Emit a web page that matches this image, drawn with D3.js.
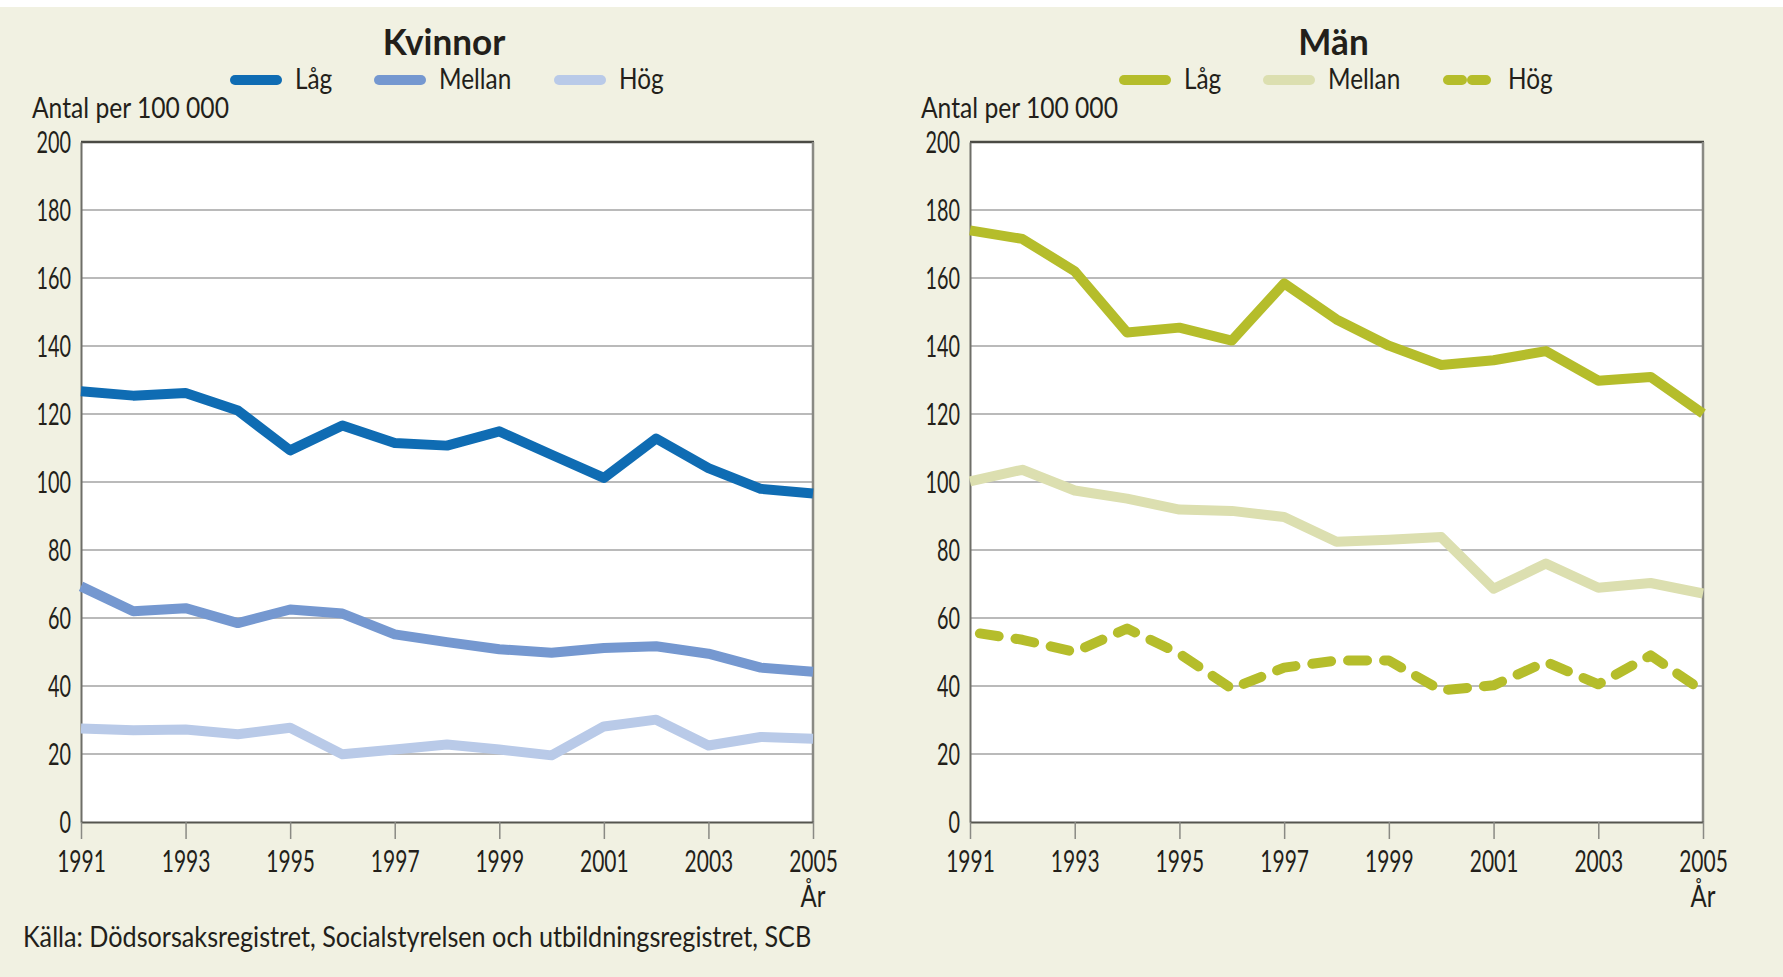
<!DOCTYPE html>
<html>
<head>
<meta charset="utf-8">
<script src="https://cdn.jsdelivr.net/npm/d3@7"></script>
<style>
  body { margin: 0; background: #f1f1e2; }
  svg { display: block; }
</style>
</head>
<body>
<svg id="chart"></svg>
<script>
// data (Antal per 100 000)
var years = [1991, 1992, 1993, 1994, 1995, 1996, 1997, 1998, 1999, 2000, 2001, 2002, 2003, 2004, 2005]
var yearTicks = [1991, 1993, 1995, 1997, 1999, 2001, 2003, 2005]
var valueTicks = [0, 20, 40, 60, 80, 100, 120, 140, 160, 180, 200]
var seriesNames = ["Låg", "Mellan", "Hög"]

var kvinnorLag    = [126.7, 125.4, 126.2, 121.0, 109.3, 116.6, 111.5, 110.7, 114.9, 108.0, 101.2, 112.8, 104.1, 98.0, 96.6]
var kvinnorMellan = [69.3, 62.0, 62.9, 58.5, 62.5, 61.3, 55.2, 52.9, 50.8, 49.8, 51.2, 51.7, 49.5, 45.4, 44.2]
var kvinnorHog    = [27.5, 27.0, 27.2, 25.8, 27.7, 19.9, 21.3, 22.8, 21.3, 19.6, 28.1, 30.1, 22.5, 25.0, 24.5]

var manLag    = [174.0, 171.5, 162.0, 144.0, 145.4, 141.6, 158.4, 147.8, 140.1, 134.4, 135.8, 138.5, 129.8, 130.9, 120.1]
var manMellan = [100.2, 103.6, 97.5, 95.1, 91.9, 91.5, 89.7, 82.4, 83.0, 83.8, 68.6, 76.0, 68.9, 70.3, 67.2]
var manHog    = [55.9, 53.6, 50.0, 56.9, 49.5, 39.2, 45.4, 47.5, 47.5, 38.7, 40.2, 47.1, 40.5, 49.0, 38.5]

var dimensions = {
    width: 1783,
    height: 977,
    top: 142,
    bottom: 822
}

var panels = [
    {
        title: "Kvinnor",
        left: 81, right: 813,
        values: [kvinnorLag, kvinnorMellan, kvinnorHog],
        colors: ["#0f6cb3", "#7598d0", "#b9cae8"],
        dashed: [false, false, false]
    },
    {
        title: "Män",
        left: 970, right: 1703,
        values: [manLag, manMellan, manHog],
        colors: ["#b5bd2b", "#dcdfb0", "#b5bd2b"],
        dashed: [false, false, true]
    }
]

var font = "Lato, 'Open Sans', sans-serif"
var textColor = "#231f1a"

var svg = d3.select("#chart")
    .attr("width", dimensions.width)
    .attr("height", dimensions.height)

svg.append("rect")
    .attr("width", dimensions.width)
    .attr("height", dimensions.height)
    .attr("fill", "#f1f1e2")

svg.append("rect")
    .attr("width", dimensions.width)
    .attr("height", 7)
    .attr("fill", "#ffffff")

// text in the original is a narrow humanist face, so squeeze Lato a bit
function label(g, x, y, str, size, anchor, weight, sx) {
    return g.append("text")
        .attr("transform", "translate(" + x + "," + y + ") scale(" + sx + ",1)")
        .attr("text-anchor", anchor)
        .style("font-family", font)
        .style("font-size", size + "px")
        .style("font-weight", weight)
        .attr("fill", textColor)
        .text(str)
}

panels.forEach(function(p) {
    var g = svg.append("g")

    var xScale = d3.scaleLinear()
        .domain([1991, 2005])
        .range([p.left, p.right])

    var yScale = d3.scaleLinear()
        .domain([0, 200])
        .range([dimensions.bottom, dimensions.top])

    // plot area
    g.append("rect")
        .attr("x", p.left)
        .attr("y", dimensions.top)
        .attr("width", p.right - p.left)
        .attr("height", dimensions.bottom - dimensions.top)
        .attr("fill", "#ffffff")

    // grid
    g.append("g")
        .selectAll("line")
        .data(valueTicks.filter(function(v) { return v > 0 && v < 200 }))
        .enter()
        .append("line")
        .attr("x1", p.left)
        .attr("x2", p.right)
        .attr("y1", d => yScale(d))
        .attr("y2", d => yScale(d))
        .attr("stroke", "#a3a3a3")
        .attr("stroke-width", 1.6)

    // frame: top dark, right grey
    g.append("line")
        .attr("x1", p.left).attr("x2", p.right + 1)
        .attr("y1", dimensions.top).attr("y2", dimensions.top)
        .attr("stroke", "#4a4a44").attr("stroke-width", 2.5)
    g.append("line")
        .attr("x1", p.right).attr("x2", p.right)
        .attr("y1", dimensions.top).attr("y2", dimensions.bottom)
        .attr("stroke", "#8a8a84").attr("stroke-width", 2.5)

    // y axis
    var yAxisGen = d3.axisLeft(yScale)
        .tickValues(valueTicks)
        .tickSize(0)
        .tickPadding(0)

    var yAxis = g.append("g")
        .attr("transform", "translate(" + p.left + ",0)")
        .call(yAxisGen)
    yAxis.select(".domain").attr("stroke", "#6e6e68").attr("stroke-width", 2)
    yAxis.selectAll("text")
        .attr("x", 0)
        .attr("dy", "0.36em")
        .attr("transform", "translate(-10,0) scale(0.66,1)")
        .style("font-family", font)
        .style("font-size", "30px")
        .attr("fill", textColor)

    // x axis
    var xAxisGen = d3.axisBottom(xScale)
        .tickValues(yearTicks)
        .tickFormat(d3.format("d"))
        .tickSize(17)
        .tickSizeOuter(0)
        .tickPadding(0)

    var xAxis = g.append("g")
        .attr("transform", "translate(0," + dimensions.bottom + ")")
        .call(xAxisGen)
    xAxis.select(".domain").attr("stroke", "#55554f").attr("stroke-width", 2)
    xAxis.selectAll(".tick line").attr("stroke", "#8a8a84").attr("stroke-width", 1.5)
    xAxis.selectAll("text")
        .attr("y", 0)
        .attr("dy", 0)
        .attr("transform", "translate(0,50) scale(0.7,1)")
        .style("font-family", font)
        .style("font-size", "30px")
        .attr("fill", textColor)

    label(g, p.right, 907, "År", 30, "middle", 400, 0.8)

    // lines
    p.values.forEach(function(vals, i) {
        var line = d3.line()
            .x((d, j) => xScale(years[j]))
            .y(d => yScale(d))

        var path = g.append("path")
            .datum(vals)
            .attr("d", line)
            .attr("fill", "none")
            .attr("stroke", p.colors[i])
            .attr("stroke-width", 10)
            .attr("stroke-linejoin", "round")
            .attr("stroke-linecap", p.dashed[i] ? "round" : "butt")
        if (p.dashed[i]) {
            path.attr("stroke-dasharray", "19,17").attr("stroke-dashoffset", -10)
        }
    })

    // title + legend
    var mid = (p.left + p.right) / 2
    label(g, mid - 3, 55, p.title, 37, "middle", 700, 0.95)

    var legendX = [150, 294, 474]
    seriesNames.forEach(function(name, i) {
        var x0 = p.left + legendX[i]
        var sw = g.append("line")
            .attr("x1", x0 + 4).attr("x2", x0 + 46)
            .attr("y1", 80).attr("y2", 80)
            .attr("stroke", p.colors[i])
            .attr("stroke-width", 10)
            .attr("stroke-linecap", "round")
        if (p.dashed[i]) {
            sw.attr("stroke-dasharray", "14,10")
        }
        label(g, x0 + 64, 89, name, 29, "start", 400, 0.84)
    })

    label(g, p.left - 49, 118, "Antal per 100 000", 28, "start", 400, 0.88)
})

label(svg, 23, 947, "Källa: Dödsorsaksregistret, Socialstyrelsen och utbildningsregistret, SCB", 28, "start", 400, 0.9)
</script>
</body>
</html>
